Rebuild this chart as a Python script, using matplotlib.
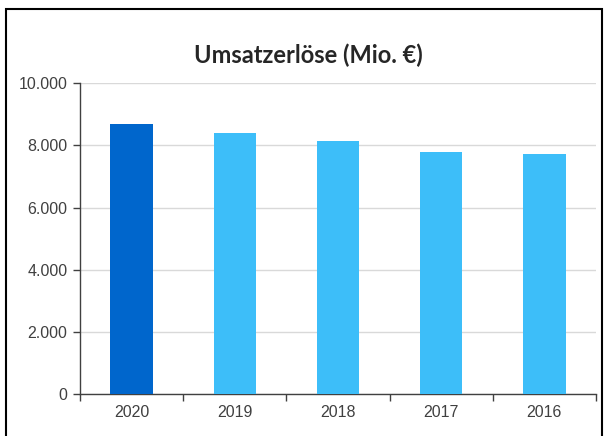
import matplotlib
matplotlib.use("Agg")
import matplotlib.pyplot as plt
from matplotlib.patches import Rectangle
from matplotlib.ticker import FuncFormatter, FixedLocator
import numpy as np

plt.rcParams["font.family"] = ["Liberation Sans", "DejaVu Sans"]

years = ["2020", "2019", "2018", "2017", "2016"]
values = [8690, 8410, 8140, 7780, 7710]
colors = ["#0066CC", "#3DBEF9", "#3DBEF9", "#3DBEF9", "#3DBEF9"]
title = "Umsatzerlöse (Mio. €)"

fig = plt.figure(figsize=(6.08, 4.36), dpi=100)
ax = fig.add_axes([80/608, 1-394/436, (596-80)/608, (394-83.3)/436])

x = np.arange(len(years))
ax.bar(x, values, width=0.41, color=colors, zorder=3)
ax.set_xlim(-0.5, len(years)-0.5)
ax.set_ylim(0, 10000)
ax.set_yticks(np.arange(0, 10001, 2000))
ax.yaxis.set_major_formatter(FuncFormatter(lambda v, p: f"{int(v):,}".replace(",", ".")))
ax.grid(axis="y", color="#d9d9d9", linewidth=1, zorder=0)

ax.set_xticks(x)
ax.set_xticklabels(years)
ax.xaxis.set_minor_locator(FixedLocator(np.arange(-0.5, len(years), 1)))
ax.tick_params(axis="x", which="major", length=0, pad=8, labelsize=11.5, labelcolor="#404040")
ax.tick_params(axis="x", which="minor", length=5, width=1, color="#404040", direction="out")
ax.tick_params(axis="y", length=5, width=1, color="#404040", labelsize=11.5, labelcolor="#404040", pad=4)

for s in ["top", "right"]:
    ax.spines[s].set_visible(False)
for s in ["left", "bottom"]:
    ax.spines[s].set_color("#404040")
    ax.spines[s].set_linewidth(1)

fig.text(308/608, 1-55/436, title, ha="center", va="center", fontsize=17,
         fontweight="bold", color="#262626", family=["Lato", "DejaVu Sans"])

fig.patches.append(Rectangle((6/608, -0.05), (602-6)/608, (1-9/436)+0.05,
                             transform=fig.transFigure, fill=False,
                             edgecolor="black", linewidth=1.5, clip_on=False))

fig.savefig("out.png", dpi=100)
